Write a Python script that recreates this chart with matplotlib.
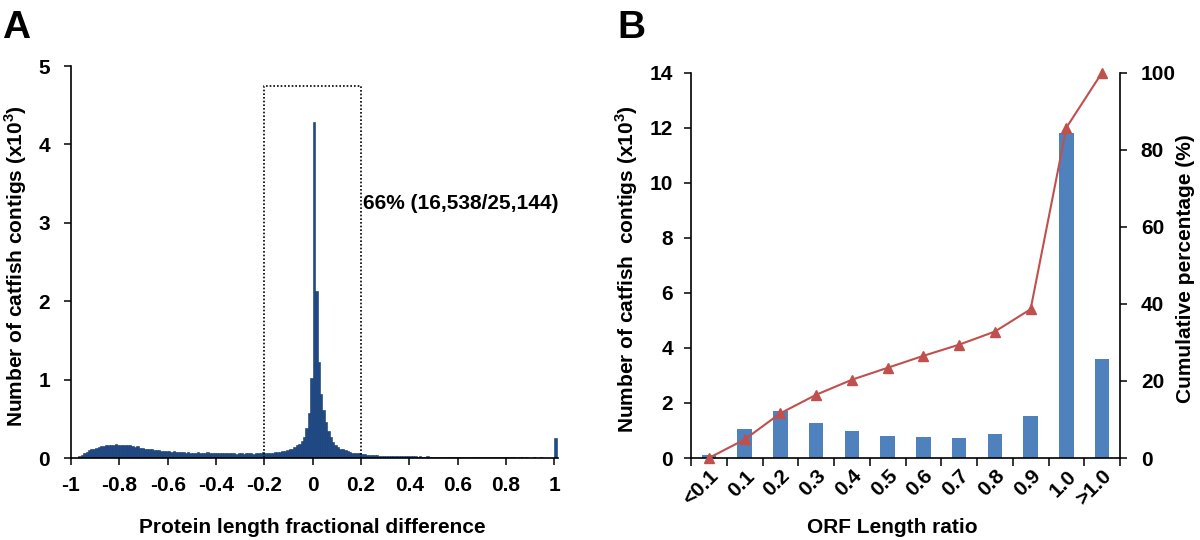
import numpy as np
import matplotlib
matplotlib.use("Agg")
import matplotlib.pyplot as plt
from matplotlib.ticker import FixedLocator, NullFormatter

plt.rcParams['font.family'] = ['Liberation Sans', 'DejaVu Sans']
plt.rcParams['font.weight'] = 'bold'

# ---------------- Panel A data (counts x10^3, bins of width 0.01 starting at -1.00) ----------------
hist_start = -1.0
hist_binwidth = 0.01
hist_counts = [
    0, 0, 0, 0.02, 0.04, 0.06, 0.08, 0.10, 0.11, 0.12,            # -1.00 .. -0.91
    0.13, 0.14, 0.15, 0.15, 0.16, 0.17, 0.16, 0.17, 0.18, 0.17,   # -0.90 .. -0.81
    0.17, 0.16, 0.17, 0.16, 0.17, 0.15, 0.14, 0.15, 0.13, 0.13,   # -0.80 .. -0.71
    0.12, 0.12, 0.11, 0.11, 0.10, 0.10, 0.10, 0.09, 0.09, 0.09,   # -0.70 .. -0.61
    0.09, 0.08, 0.09, 0.08, 0.08, 0.08, 0.08, 0.07, 0.08, 0.07,   # -0.60 .. -0.51
    0.07, 0.07, 0.08, 0.07, 0.07, 0.07, 0.08, 0.07, 0.07, 0.06,   # -0.50 .. -0.41
    0.07, 0.06, 0.06, 0.07, 0.06, 0.06, 0.06, 0.06, 0.05, 0.06,   # -0.40 .. -0.31
    0.06, 0.05, 0.06, 0.06, 0.06, 0.05, 0.07, 0.06, 0.07, 0.08,   # -0.30 .. -0.21
    0.07, 0.06, 0.07, 0.07, 0.08, 0.08, 0.08, 0.09, 0.09, 0.10,   # -0.20 .. -0.11
    0.11, 0.12, 0.14, 0.16, 0.18, 0.22, 0.27, 0.38, 0.58, 1.02,   # -0.10 .. -0.01
    4.28, 2.13, 1.23, 0.82, 0.61, 0.46, 0.35, 0.27, 0.21, 0.17,   #  0.00 ..  0.09
    0.14, 0.12, 0.11, 0.10, 0.09, 0.08, 0.07, 0.07, 0.06, 0.06,   #  0.10 ..  0.19
    0.05, 0.05, 0.04, 0.04, 0.04, 0.04, 0.035, 0.03, 0.03, 0.03,  #  0.20 ..  0.29
    0.03, 0.03, 0.025, 0.025, 0.03, 0.025, 0.02, 0.02, 0.02, 0.02,
    0.02, 0.02, 0.02, 0.015, 0.02, 0.015, 0.015, 0.02, 0.015, 0.015,
    0.015, 0.012, 0.015, 0.012, 0.01, 0.012, 0.01, 0.012, 0.01, 0.01,
    0.012, 0.01, 0.01, 0.012, 0.01, 0.01, 0.01, 0.008, 0.01, 0.01,
    0.01, 0.008, 0.01, 0.01, 0.008, 0.01, 0.008, 0.008, 0.01, 0.008,
    0.008, 0.008, 0.01, 0.008, 0.006, 0.008, 0.008, 0.006, 0.008, 0.006,
    0.006, 0.008, 0.006, 0.006, 0.008, 0.006, 0.006, 0.005, 0.006, 0.005,
    0.26,                                                           #  1.00
]
a_xticks = [-1, -0.8, -0.6, -0.4, -0.2, 0, 0.2, 0.4, 0.6, 0.8, 1]
a_xticklabels = ['-1', '-0.8', '-0.6', '-0.4', '-0.2', '0', '0.2', '0.4', '0.6', '0.8', '1']
a_yticks = [0, 1, 2, 3, 4, 5]
box_x = [-0.2, 0.2]
box_top = 4.75
annot_text = '66% (16,538/25,144)'

# ---------------- Panel B data ----------------
orf_categories = ['<0.1', '0.1', '0.2', '0.3', '0.4', '0.5', '0.6', '0.7', '0.8', '0.9', '1.0', '>1.0']
orf_counts = [0.12, 1.07, 1.70, 1.27, 0.97, 0.81, 0.75, 0.74, 0.86, 1.52, 11.8, 3.59]
orf_cumulative = [0.0, 4.8, 11.6, 16.4, 20.3, 23.4, 26.5, 29.4, 32.8, 38.6, 85.7, 100.0]

FS = 15
fig = plt.figure(figsize=(12, 5.4), dpi=100)

# ---------------- Panel A ----------------
axA = fig.add_axes([71/1200, 1-458/540, 487/1200, 392/540])
edges = hist_start + hist_binwidth*np.arange(len(hist_counts))
axA.bar(edges, hist_counts, width=hist_binwidth, align='edge',
        color='#1f4a88', edgecolor='#173a6c', linewidth=0.4)
axA.plot([box_x[0], box_x[0], box_x[1], box_x[1]], [0, box_top, box_top, 0],
         color='black', linestyle=(0, (1, 1.2)), linewidth=1.2)
axA.text(0.21, 3.25, annot_text, fontsize=FS, fontweight='bold', ha='left', va='center')
axA.set_xlim(-1, 1.015)
axA.set_ylim(0, 5)
axA.set_xticks(a_xticks)
axA.set_xticklabels(a_xticklabels)
axA.set_yticks(a_yticks)
for s in ['top', 'right']:
    axA.spines[s].set_visible(False)
for s in ['left', 'bottom']:
    axA.spines[s].set_linewidth(1.2)
axA.tick_params(axis='both', direction='out', length=5, width=1.1, labelsize=FS)
axA.tick_params(axis='x', pad=8)
axA.tick_params(axis='y', pad=10)
axA.set_xlabel('Protein length fractional difference', fontsize=FS, fontweight='bold')
axA.xaxis.set_label_coords(0.495, -0.152)
axA.set_ylabel('Number of catfish contigs (x10$^{\\mathregular{3}}$)', fontsize=FS, fontweight='bold')
axA.yaxis.set_label_coords(-0.086, 0.49)

# ---------------- Panel B ----------------
axB = fig.add_axes([691/1200, 1-458/540, 429/1200, 385.5/540])
xpos = np.arange(len(orf_categories))
axB.bar(xpos, orf_counts, width=0.4, color='#4f81bd', zorder=2)
axB.set_xlim(-0.5, len(orf_categories) - 0.5)
axB.set_ylim(0, 14)
axB.set_yticks(np.arange(0, 15, 2))
axB.xaxis.set_major_locator(FixedLocator(np.arange(-0.5, len(orf_categories), 1.0)))
axB.xaxis.set_major_formatter(NullFormatter())
axB.xaxis.set_minor_locator(FixedLocator(xpos))
axB.set_xticklabels(orf_categories, minor=True, rotation=45, ha='right',
                    rotation_mode='anchor', fontsize=FS, fontweight='bold')
axB.tick_params(axis='x', which='minor', length=0, pad=6)
axB.tick_params(axis='x', which='major', direction='out', length=6, width=1.1)
axB.tick_params(axis='y', direction='out', length=5, width=1.1, labelsize=FS, pad=8)
for s in ['top', 'right']:
    axB.spines[s].set_visible(False)
for s in ['left', 'bottom']:
    axB.spines[s].set_linewidth(1.2)
axB.set_xlabel('ORF Length ratio', fontsize=FS, fontweight='bold')
axB.xaxis.set_label_coords(0.47, -0.155)
axB.set_ylabel('Number of catfish  contigs (x10$^{\\mathregular{3}}$)', fontsize=FS, fontweight='bold')
axB.yaxis.set_label_coords(-0.12, 0.49)

axB2 = axB.twinx()
axB2.plot(xpos, orf_cumulative, color='#c0504d', linewidth=1.5, marker='^',
          markersize=7, clip_on=False, zorder=5)
axB2.set_ylim(0, 100)
axB2.set_yticks(np.arange(0, 101, 20))
for s in ['top', 'left', 'bottom']:
    axB2.spines[s].set_visible(False)
axB2.spines['right'].set_linewidth(1.2)
axB2.tick_params(axis='y', direction='out', length=5, width=1.1, labelsize=FS, pad=10)
axB2.set_ylabel('Cumulative percentage (%)', fontsize=FS, fontweight='bold')
axB2.yaxis.set_label_coords(1.13, 0.49)

for lbl in axA.get_xticklabels() + axA.get_yticklabels() + axB.get_yticklabels() + axB2.get_yticklabels():
    lbl.set_fontweight('bold')

# Panel letters
fig.text(2/1200, 1-10/540, 'A', fontsize=28, fontweight='bold', ha='left', va='top')
fig.text(617/1200, 1-10/540, 'B', fontsize=28, fontweight='bold', ha='left', va='top')

fig.savefig('out.png', dpi=100)
